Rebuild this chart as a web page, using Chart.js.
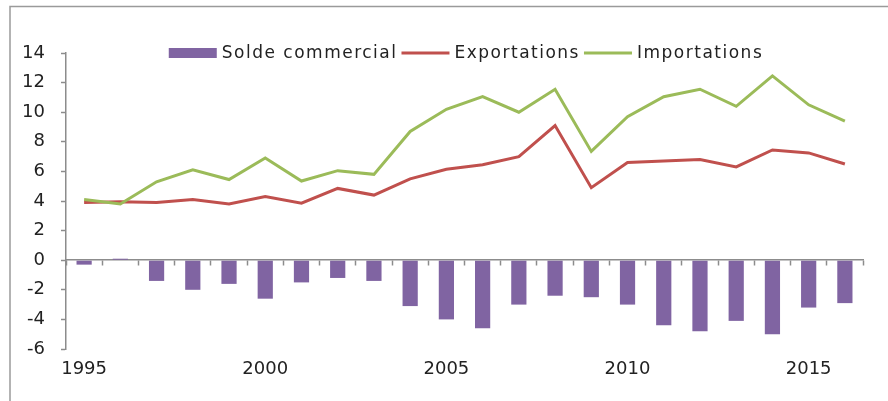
<!DOCTYPE html>
<html>
<head>
<meta charset="utf-8">
<script src="https://cdn.jsdelivr.net/npm/chart.js@4"></script>
<style>
  html,body{margin:0;padding:0;background:#fff;}
  #wrap{position:relative;width:888px;height:401px;}
  canvas{display:block;}
</style>
</head>
<body>
<div id="wrap"><canvas id="c" width="888" height="401"></canvas></div>
<script>
const categories = ['1995','1996','1997','1998','1999','2000','2001','2002','2003','2004','2005','2006','2007','2008','2009','2010','2011','2012','2013','2014','2015','2016'];
const solde = [-0.3, 0.1, -1.4, -2.0, -1.6, -2.6, -1.5, -1.2, -1.4, -3.1, -4.0, -4.6, -3.0, -2.4, -2.5, -3.0, -4.4, -4.8, -4.1, -5.0, -3.2, -2.9];
const exportations = [3.9, 3.95, 3.9, 4.1, 3.8, 4.3, 3.85, 4.85, 4.4, 5.5, 6.15, 6.45, 7.0, 9.1, 4.9, 6.6, 6.7, 6.8, 6.3, 7.45, 7.25, 6.5];
const importations = [4.1, 3.8, 5.3, 6.1, 5.45, 6.9, 5.35, 6.05, 5.8, 8.7, 10.2, 11.05, 10.0, 11.55, 7.35, 9.7, 11.05, 11.55, 10.4, 12.45, 10.5, 9.4];
const yTicks = [-6, -4, -2, 0, 2, 4, 6, 8, 10, 12, 14];
const xLabelEvery = 5;

const PURPLE = '#8064A2', RED = '#C0504D', GREEN = '#9BBB59';
const AXIS = '#8c8c8c';
const FONT = 'DejaVu Sans';

const framePlugin = {
  id: 'frame',
  beforeInit(chart) { chart.ctx.letterSpacing = '2px'; },
  beforeDraw(chart) {
    const ctx = chart.ctx;
    ctx.save();
    ctx.strokeStyle = '#9a9a9a';
    ctx.lineWidth = 1.5;
    ctx.beginPath();
    ctx.moveTo(10, 420); ctx.lineTo(10, 6.5); ctx.lineTo(900, 6.5);
    ctx.stroke();
    ctx.restore();
  }
};

const legendPlugin = {
  id: 'customLegend',
  afterDraw(chart) {
    const ctx = chart.ctx;
    ctx.save();
    ctx.font = '17px "' + FONT + '"';
    ctx.letterSpacing = '1.5px';
    ctx.textBaseline = 'middle';
    ctx.fillStyle = '#222';
    const items = chart.data.datasets.map(d => ({label: d.label, color: d.borderColor || d.backgroundColor, type: d.type}));
    const symW = 48, gapS = 5, gapI = 4;
    let total = 0;
    items.forEach(it => { it.w = ctx.measureText(it.label).width; total += symW + gapS + it.w + gapI; });
    total -= gapI;
    const cx = 466;
    let x = cx - total / 2;
    const y = 53;
    items.forEach(it => {
      if (it.type === 'bar') {
        ctx.fillStyle = PURPLE;
        ctx.fillRect(x, y - 5, symW, 10);
      } else {
        ctx.strokeStyle = it.color;
        ctx.lineWidth = 3;
        ctx.beginPath(); ctx.moveTo(x, y); ctx.lineTo(x + symW, y); ctx.stroke();
      }
      x += symW + gapS;
      ctx.fillStyle = '#222';
      ctx.fillText(it.label, x, y + 1);
      x += it.w + gapI;
    });
    ctx.restore();
  }
};

new Chart(document.getElementById('c'), {
  data: {
    labels: categories,
    datasets: [
      {type: 'bar', label: 'Solde commercial', data: solde, backgroundColor: PURPLE, borderWidth: 0,
       barPercentage: 0.42, categoryPercentage: 1.0, order: 2},
      {type: 'line', label: 'Exportations', data: exportations, borderColor: RED, borderWidth: 3,
       pointRadius: 0, tension: 0, fill: false, order: 1},
      {type: 'line', label: 'Importations', data: importations, borderColor: GREEN, borderWidth: 3,
       pointRadius: 0, tension: 0, fill: false, order: 0}
    ]
  },
  options: {
    responsive: false,
    animation: false,
    events: [],
    layout: {padding: {top: 53, right: 25, bottom: 0, left: 0}},
    plugins: {legend: {display: false}, tooltip: {enabled: false}},
    scales: {
      x: {
        type: 'category', position: 'bottom', offset: true,
        grid: {display: false, drawTicks: false},
        border: {display: false},
        ticks: {autoSkip: false, maxRotation: 0, padding: 10, color: '#222',
                font: {family: FONT, size: 18},
                callback: function(v, i) { return i % xLabelEvery === 0 ? this.getLabelForValue(v) : ''; }},
        afterFit(s) { s.height = 52; }
      },
      x0: {
        type: 'category', position: {y: 0}, offset: true,
        grid: {offset: true, drawOnChartArea: false, drawTicks: true, tickLength: 5, tickColor: AXIS, tickWidth: 1.5},
        border: {display: true, color: AXIS, width: 1.5},
        ticks: {display: false}
      },
      y: {
        min: -6, max: 14,
        afterBuildTicks(s) { s.ticks = yTicks.map(v => ({value: v})); },
        grid: {drawOnChartArea: false, drawTicks: true, tickLength: 5, tickColor: AXIS, tickWidth: 1.5},
        border: {display: true, color: AXIS, width: 1.5},
        ticks: {padding: 16, color: '#222', font: {family: FONT, size: 18}},
        afterFit(s) { s.width = 66; }
      }
    }
  },
  plugins: [framePlugin, legendPlugin]
});
</script>
</body>
</html>
